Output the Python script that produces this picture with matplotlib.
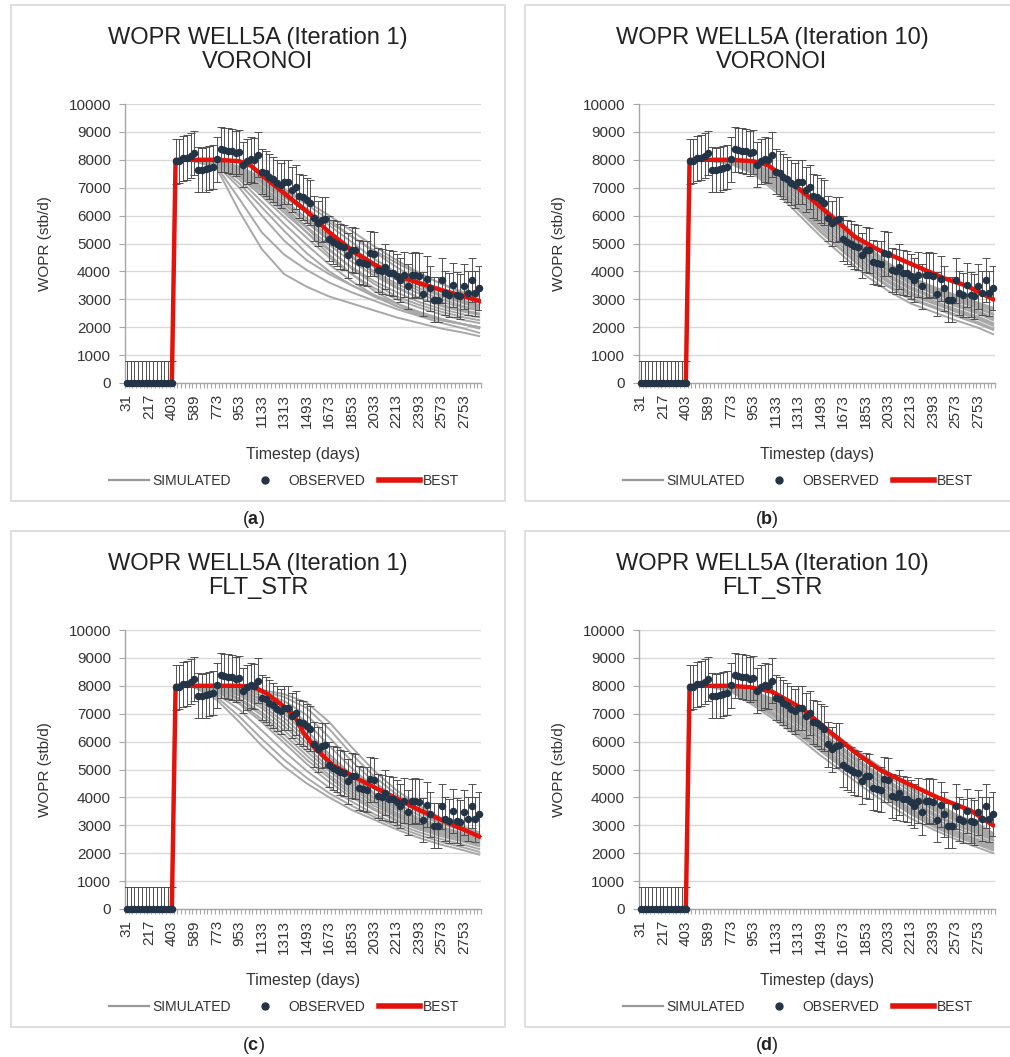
import matplotlib.pyplot as plt
from matplotlib.lines import Line2D
from matplotlib.patches import Rectangle

plt.rcParams['font.family'] = ['Liberation Sans', 'DejaVu Sans']
plt.rcParams['mathtext.fontset'] = 'custom'
plt.rcParams['mathtext.rm'] = 'Liberation Sans'
plt.rcParams['mathtext.bf'] = 'Liberation Sans:bold'

# timesteps (days) on the category axis
days = [31, 62, 93, 124, 155, 186, 217, 248, 279, 310, 341, 372, 403, 434, 465, 496, 527, 558, 589,
        620, 651, 682, 712, 743, 773,
        803, 833, 863, 893, 923, 953, 983, 1013, 1043, 1073, 1103, 1133, 1163, 1193, 1223, 1253,
        1283, 1313, 1343, 1373, 1403, 1433, 1463, 1493, 1523, 1553, 1583, 1613, 1643, 1673, 1703,
        1733, 1763, 1793, 1823, 1853, 1883, 1913, 1943, 1973, 2003, 2033, 2063, 2093, 2123, 2153,
        2183, 2213, 2243, 2273, 2303, 2333, 2363, 2393, 2423, 2453, 2483, 2513, 2543, 2573, 2603,
        2633, 2663, 2693, 2723, 2753, 2783, 2813, 2843, 2873]
label_days = days[::6]

# observed WOPR, one value per timestep
observed = [0] * 13 + [
    7940, 7960, 8050, 8080, 8150, 8250, 7650, 7640, 7660, 7700, 7740, 8020,
    8380, 8350, 8330, 8300, 8230, 8280, 7830, 7950, 8020, 7980, 8180, 7580,
    7520, 7400, 7300, 7180, 7080, 7200, 7200, 6930, 7030, 6700, 6660, 6550,
    6460, 5900, 5720, 5860, 5880, 5170, 5050, 5000, 4900, 4860, 4580, 4780,
    4760, 4340, 4300, 4280, 4650, 4620, 4050, 4000, 4170, 3950, 3930, 3820,
    3690, 3880, 3460, 3860, 3880, 3850, 3190, 3740, 3390, 2990, 2990, 3680,
    3230, 3150, 3510, 3170, 3110, 3470, 3220, 3690, 3210, 3400]
obs_err = 800

# simulated ensembles sampled at these timesteps (zero before 434)
sim_days = [31, 403, 434, 589, 773, 953, 1133, 1313, 1493, 1673, 1853, 2033, 2213, 2393, 2573, 2753, 2873]

sim_a = [
    [8000, 7950, 7700, 6150, 4800, 3900, 3450, 3100, 2850, 2600, 2350, 2150, 1950, 1800, 1680],
    [8000, 7950, 7750, 6600, 5400, 4600, 4050, 3600, 3250, 2950, 2650, 2400, 2150, 1950, 1800],
    [8000, 7980, 7800, 7000, 6000, 5100, 4400, 3900, 3500, 3150, 2850, 2550, 2300, 2100, 1950],
    [8000, 8000, 7900, 7500, 6900, 6200, 5400, 4600, 3900, 3300, 2850, 2500, 2250, 2100, 2000],
    [8000, 8000, 7900, 7400, 6700, 5950, 5200, 4500, 3900, 3400, 3000, 2700, 2450, 2250, 2150],
    [8000, 8000, 7900, 7450, 6800, 6100, 5400, 4750, 4150, 3650, 3250, 2900, 2650, 2450, 2350],
    [8000, 8000, 7950, 7550, 6950, 6300, 5600, 4950, 4350, 3850, 3400, 3050, 2800, 2600, 2500],
    [8000, 8000, 7950, 7600, 7050, 6450, 5800, 5150, 4550, 4000, 3550, 3200, 2900, 2700, 2600],
    [8000, 8000, 7950, 7650, 7150, 6550, 5900, 5250, 4650, 4150, 3700, 3300, 3000, 2750, 2650],
    [8000, 8000, 7950, 7700, 7250, 6700, 6100, 5450, 4850, 4300, 3800, 3400, 3100, 2850, 2700],
    [8000, 8000, 7950, 7700, 7300, 6800, 6250, 5650, 5050, 4450, 3950, 3500, 3150, 2900, 2750],
    [8000, 8000, 7950, 7750, 7350, 6900, 6400, 5850, 5250, 4700, 4150, 3650, 3250, 2950, 2800],
    [8000, 8000, 7950, 7750, 7350, 6950, 6500, 6000, 5450, 4900, 4400, 3950, 3550, 3200, 3000],
    [8000, 8000, 7950, 7650, 7200, 6650, 6150, 5750, 5250, 4750, 4300, 3900, 3550, 3250, 3100],
    [8000, 8000, 7950, 7600, 7000, 6400, 5750, 5100, 4500, 3950, 3450, 3050, 2750, 2550, 2450],
    [8000, 8000, 7900, 7300, 6500, 5700, 4950, 4250, 3650, 3150, 2750, 2450, 2250, 2100, 2000],
    [8000, 7980, 7850, 7150, 6300, 5450, 4650, 4000, 3500, 3100, 2750, 2450, 2250, 2100, 2000],
    [8000, 8000, 7950, 7600, 6900, 6250, 5550, 4800, 4100, 3550, 3100, 2800, 2550, 2350, 2250],
]

sim_b = [
    [8000, 7980, 7850, 7500, 6850, 6050, 5250, 4550, 3850, 3300, 2850, 2550, 2250, 1980, 1750],
    [8000, 7980, 7850, 7550, 6950, 6200, 5400, 4700, 4000, 3450, 3000, 2700, 2400, 2120, 1900],
    [8000, 7990, 7880, 7600, 7050, 6300, 5550, 4850, 4150, 3600, 3150, 2850, 2550, 2280, 2050],
    [8000, 7990, 7900, 7650, 7150, 6450, 5700, 5000, 4300, 3700, 3250, 2950, 2650, 2380, 2150],
    [8000, 8000, 7900, 7700, 7250, 6550, 5800, 5100, 4400, 3800, 3350, 3050, 2750, 2480, 2250],
    [8000, 8000, 7920, 7720, 7300, 6650, 5950, 5250, 4500, 3900, 3450, 3100, 2850, 2580, 2350],
    [8000, 8000, 7930, 7750, 7350, 6750, 6050, 5350, 4600, 4000, 3550, 3200, 2950, 2680, 2450],
    [8000, 8000, 7940, 7780, 7400, 6850, 6150, 5450, 4700, 4100, 3650, 3300, 3000, 2730, 2500],
    [8000, 8000, 7950, 7800, 7450, 6900, 6250, 5550, 4800, 4200, 3700, 3350, 3050, 2780, 2600],
    [8000, 8000, 7950, 7820, 7500, 7000, 6350, 5650, 4900, 4250, 3750, 3400, 3100, 2830, 2650],
    [8000, 8000, 7950, 7850, 7550, 7050, 6400, 5700, 4950, 4300, 3800, 3450, 3150, 2880, 2700],
    [8000, 7990, 7900, 7650, 7200, 6600, 5900, 5200, 4450, 3850, 3400, 3050, 2800, 2530, 2300],
    [8000, 7990, 7900, 7600, 7100, 6400, 5650, 4950, 4250, 3650, 3200, 2900, 2600, 2330, 2100],
    [8000, 8000, 7930, 7750, 7400, 6800, 6100, 5400, 4650, 4050, 3600, 3250, 2950, 2680, 2450],
    [8000, 8000, 7950, 7800, 7450, 6950, 6300, 5600, 4850, 4200, 3750, 3400, 3100, 2830, 2600],
    [8000, 7980, 7870, 7550, 7000, 6250, 5450, 4750, 4050, 3500, 3050, 2750, 2450, 2180, 1950],
]

sim_c = [
    [8000, 7950, 7500, 6700, 5850, 5100, 4500, 4000, 3550, 3200, 2850, 2550, 2300, 2100, 1950],
    [8000, 7950, 7600, 6900, 6100, 5350, 4700, 4150, 3700, 3300, 2950, 2650, 2400, 2200, 2050],
    [8000, 7970, 7700, 7150, 6400, 5650, 4950, 4350, 3850, 3400, 3050, 2750, 2500, 2300, 2150],
    [8000, 7980, 7780, 7350, 6700, 5950, 5200, 4550, 4000, 3550, 3150, 2850, 2600, 2400, 2250],
    [8000, 7990, 7850, 7500, 6950, 6250, 5500, 4800, 4200, 3700, 3300, 2950, 2700, 2500, 2350],
    [8000, 8000, 7900, 7650, 7200, 6550, 5800, 5050, 4400, 3850, 3400, 3050, 2750, 2550, 2400],
    [8000, 8000, 7930, 7750, 7400, 6850, 6100, 5300, 4600, 4000, 3550, 3150, 2850, 2600, 2450],
    [8000, 8000, 7950, 7820, 7550, 7100, 6400, 5550, 4800, 4150, 3650, 3250, 2950, 2700, 2500],
    [8000, 8000, 7960, 7870, 7650, 7300, 6700, 5850, 5050, 4350, 3800, 3350, 3050, 2800, 2600],
    [8000, 8000, 7970, 7900, 7750, 7450, 6950, 6150, 5300, 4550, 3950, 3450, 3100, 2850, 2650],
    [8000, 8000, 7980, 7920, 7800, 7600, 7200, 6450, 5550, 4750, 4100, 3600, 3200, 2900, 2700],
    [8000, 8000, 7980, 7940, 7850, 7700, 7400, 6700, 5800, 4950, 4250, 3700, 3250, 2950, 2750],
    [8000, 7990, 7880, 7550, 7050, 6400, 5650, 4950, 4300, 3800, 3350, 3000, 2700, 2450, 2300],
    [8000, 8000, 7920, 7700, 7300, 6700, 5950, 5200, 4500, 3950, 3450, 3100, 2800, 2550, 2400],
    [8000, 7980, 7800, 7400, 6800, 6100, 5350, 4700, 4100, 3600, 3200, 2900, 2650, 2450, 2300],
    [8000, 8000, 7950, 7800, 7500, 7000, 6250, 5450, 4700, 4100, 3600, 3200, 2900, 2650, 2500],
]

sim_d = [
    [8000, 7980, 7800, 7300, 6750, 6150, 5500, 4900, 4300, 3750, 3250, 2850, 2500, 2200, 2000],
    [8000, 7980, 7820, 7380, 6850, 6250, 5650, 5050, 4450, 3900, 3400, 2950, 2600, 2300, 2100],
    [8000, 7990, 7850, 7450, 6950, 6350, 5750, 5150, 4550, 4000, 3500, 3050, 2700, 2400, 2200],
    [8000, 7990, 7870, 7500, 7000, 6450, 5850, 5250, 4650, 4100, 3600, 3150, 2800, 2500, 2300],
    [8000, 8000, 7880, 7550, 7100, 6550, 5950, 5350, 4750, 4200, 3700, 3250, 2900, 2600, 2350],
    [8000, 8000, 7900, 7600, 7150, 6650, 6050, 5450, 4850, 4300, 3800, 3350, 3000, 2700, 2450],
    [8000, 8000, 7910, 7650, 7250, 6750, 6150, 5550, 4950, 4400, 3900, 3450, 3050, 2750, 2500],
    [8000, 8000, 7920, 7680, 7300, 6800, 6250, 5650, 5050, 4500, 4000, 3550, 3150, 2800, 2550],
    [8000, 8000, 7930, 7720, 7350, 6900, 6350, 5750, 5150, 4600, 4100, 3650, 3250, 2900, 2600],
    [8000, 8000, 7940, 7750, 7400, 6950, 6450, 5900, 5300, 4750, 4200, 3700, 3300, 2950, 2650],
    [8000, 8000, 7950, 7780, 7450, 7050, 6550, 6000, 5400, 4850, 4300, 3800, 3350, 3000, 2700],
    [8000, 7990, 7860, 7480, 6980, 6400, 5800, 5200, 4600, 4050, 3550, 3100, 2750, 2450, 2250],
    [8000, 8000, 7900, 7620, 7200, 6700, 6100, 5500, 4900, 4350, 3850, 3400, 3000, 2700, 2450],
    [8000, 8000, 7930, 7700, 7330, 6850, 6300, 5700, 5100, 4550, 4050, 3600, 3200, 2850, 2580],
    [8000, 7980, 7830, 7420, 6900, 6300, 5700, 5100, 4500, 3950, 3450, 3000, 2650, 2350, 2150],
    [8000, 8000, 7950, 7800, 7500, 7100, 6600, 6050, 5450, 4900, 4350, 3850, 3400, 3050, 2720],
]

# best-fit runs
best_a_days = [31, 403, 434, 589, 773, 953, 1043, 1133, 1313, 1493, 1673, 1853, 2033, 2213, 2393, 2573, 2753, 2873]
best_a = [0, 0, 8000, 8000, 8000, 7950, 7800, 7450, 6800, 6150, 5400, 4750, 4250, 3850, 3580, 3330, 3100, 2940]
best_b_days = [31, 403, 434, 773, 953, 1073, 1223, 1403, 1583, 1763, 1943, 2123, 2303, 2483, 2663, 2873]
best_b = [0, 0, 8000, 8000, 7950, 7800, 7300, 6650, 5950, 5250, 4800, 4450, 4100, 3750, 3480, 3000]
best_c_days = [31, 403, 434, 953, 1073, 1163, 1313, 1403, 1463, 1553, 1703, 1973, 2183, 2393, 2603, 2873]
best_c = [0, 0, 8000, 8000, 7950, 7750, 7250, 6850, 6350, 5800, 5150, 4500, 4030, 3550, 3130, 2600]
best_d_days = [31, 403, 434, 773, 923, 1103, 1343, 1553, 1763, 1973, 2213, 2423, 2693, 2873]
best_d = [0, 0, 8000, 8000, 7950, 7790, 7190, 6400, 5630, 4970, 4450, 4010, 3530, 3000]

titles = ["WOPR WELL5A (Iteration 1)\nVORONOI", "WOPR WELL5A (Iteration 10)\nVORONOI",
          "WOPR WELL5A (Iteration 1)\nFLT_STR", "WOPR WELL5A (Iteration 10)\nFLT_STR"]
captions = ["a", "b", "c", "d"]

W, H = 1010, 1057
fig = plt.figure(figsize=(W / 100, H / 100), dpi=100)

SIM_COLOR = '#a8a8a8'
OBS_COLOR = '#243447'
BEST_COLOR = '#e3120b'
TXT = '#333333'


def pos(dlist):
    return [days.index(d) for d in dlist]


def draw_panel(ax, sims, bdays, bvals):
    sx = pos(sim_days)
    for s in sims:
        ax.plot(sx, [0, 0] + s, color=SIM_COLOR, lw=1.4, zorder=2)
    x = list(range(len(days)))
    ax.errorbar(x, observed, yerr=obs_err, fmt='none', ecolor='#505050',
                elinewidth=0.7, capsize=2.6, capthick=0.7, zorder=3)
    ax.plot(pos(bdays), bvals, color=BEST_COLOR, lw=3.2, zorder=4, solid_joinstyle='round')
    ax.plot(x, observed, 'o', ms=4.4, color=OBS_COLOR, zorder=5, clip_on=False)

    ax.set_xlim(-0.5, len(days) - 0.5)
    ax.set_ylim(0, 10000)
    ax.set_yticks(range(0, 10001, 1000))
    ax.set_xticks(pos(label_days))
    ax.set_xticklabels([str(d) for d in label_days], rotation=90)
    ax.set_xticks([i - 0.5 for i in range(len(days) + 1)], minor=True)
    ax.tick_params(axis='x', which='major', length=0, pad=8, labelsize=11, labelcolor=TXT)
    ax.tick_params(axis='x', which='minor', length=3.5, color='#a6a6a6', width=0.8)
    ax.tick_params(axis='y', length=4, color='#a6a6a6', pad=6, labelsize=11, labelcolor=TXT)
    ax.grid(axis='y', color='#d9d9d9', lw=1)
    ax.set_axisbelow(True)
    for side in ['top', 'right']:
        ax.spines[side].set_visible(False)
    for side in ['left', 'bottom']:
        ax.spines[side].set_color('#a6a6a6')
        ax.spines[side].set_linewidth(1)

    ax.text(0.5, -0.258, "Timestep (days)", transform=ax.transAxes, ha='center', va='center',
            fontsize=11.5, color=TXT)
    ax.text(-0.225, 0.5, "WOPR (stb/d)", transform=ax.transAxes, ha='center', va='center',
            rotation=90, fontsize=11, color=TXT)

    handles = [Line2D([], [], color='#999999', lw=1.6),
               Line2D([], [], ls='none', marker='o', ms=5, color=OBS_COLOR),
               Line2D([], [], color=BEST_COLOR, lw=4)]
    ax.legend(handles, ["SIMULATED", "OBSERVED", "BEST"], loc='center', bbox_to_anchor=(0.447, -0.351),
              ncol=3, frameon=False, handlelength=2.9, handletextpad=0.25, columnspacing=1.0,
              prop={'size': 10}, labelcolor=TXT)


panels = [
    (sim_a, best_a_days, best_a, 0, 0),
    (sim_b, best_b_days, best_b, 514, 0),
    (sim_c, best_c_days, best_c, 0, 526),
    (sim_d, best_d_days, best_d, 514, 526),
]

for k, (sims, bdays, bvals, ox, oy) in enumerate(panels):
    # chart-area frame
    fig.patches.append(Rectangle(((11 + ox) / W, 1 - (501 + oy) / H), 494 / W, 496 / H,
                                 transform=fig.transFigure, fill=False, edgecolor='#d9d9d9', lw=1.2))
    left, top, right, bottom = 125 + ox, 104 + oy, 481 + ox, 383 + oy
    ax = fig.add_axes([left / W, 1 - bottom / H, (right - left) / W, (bottom - top) / H])
    draw_panel(ax, sims, bdays, bvals)
    fig.text((258 + ox) / W, 1 - (50 + oy) / H, titles[k], ha='center', va='center',
             fontsize=17, color='#222222', linespacing=1.1)
    fig.text((253 + ox) / W, 1 - (519 + oy) / H, r'($\mathbf{%s}$)' % captions[k], ha='center',
             va='center', fontsize=13, color='#222222')

fig.savefig("out.png", dpi=100)
